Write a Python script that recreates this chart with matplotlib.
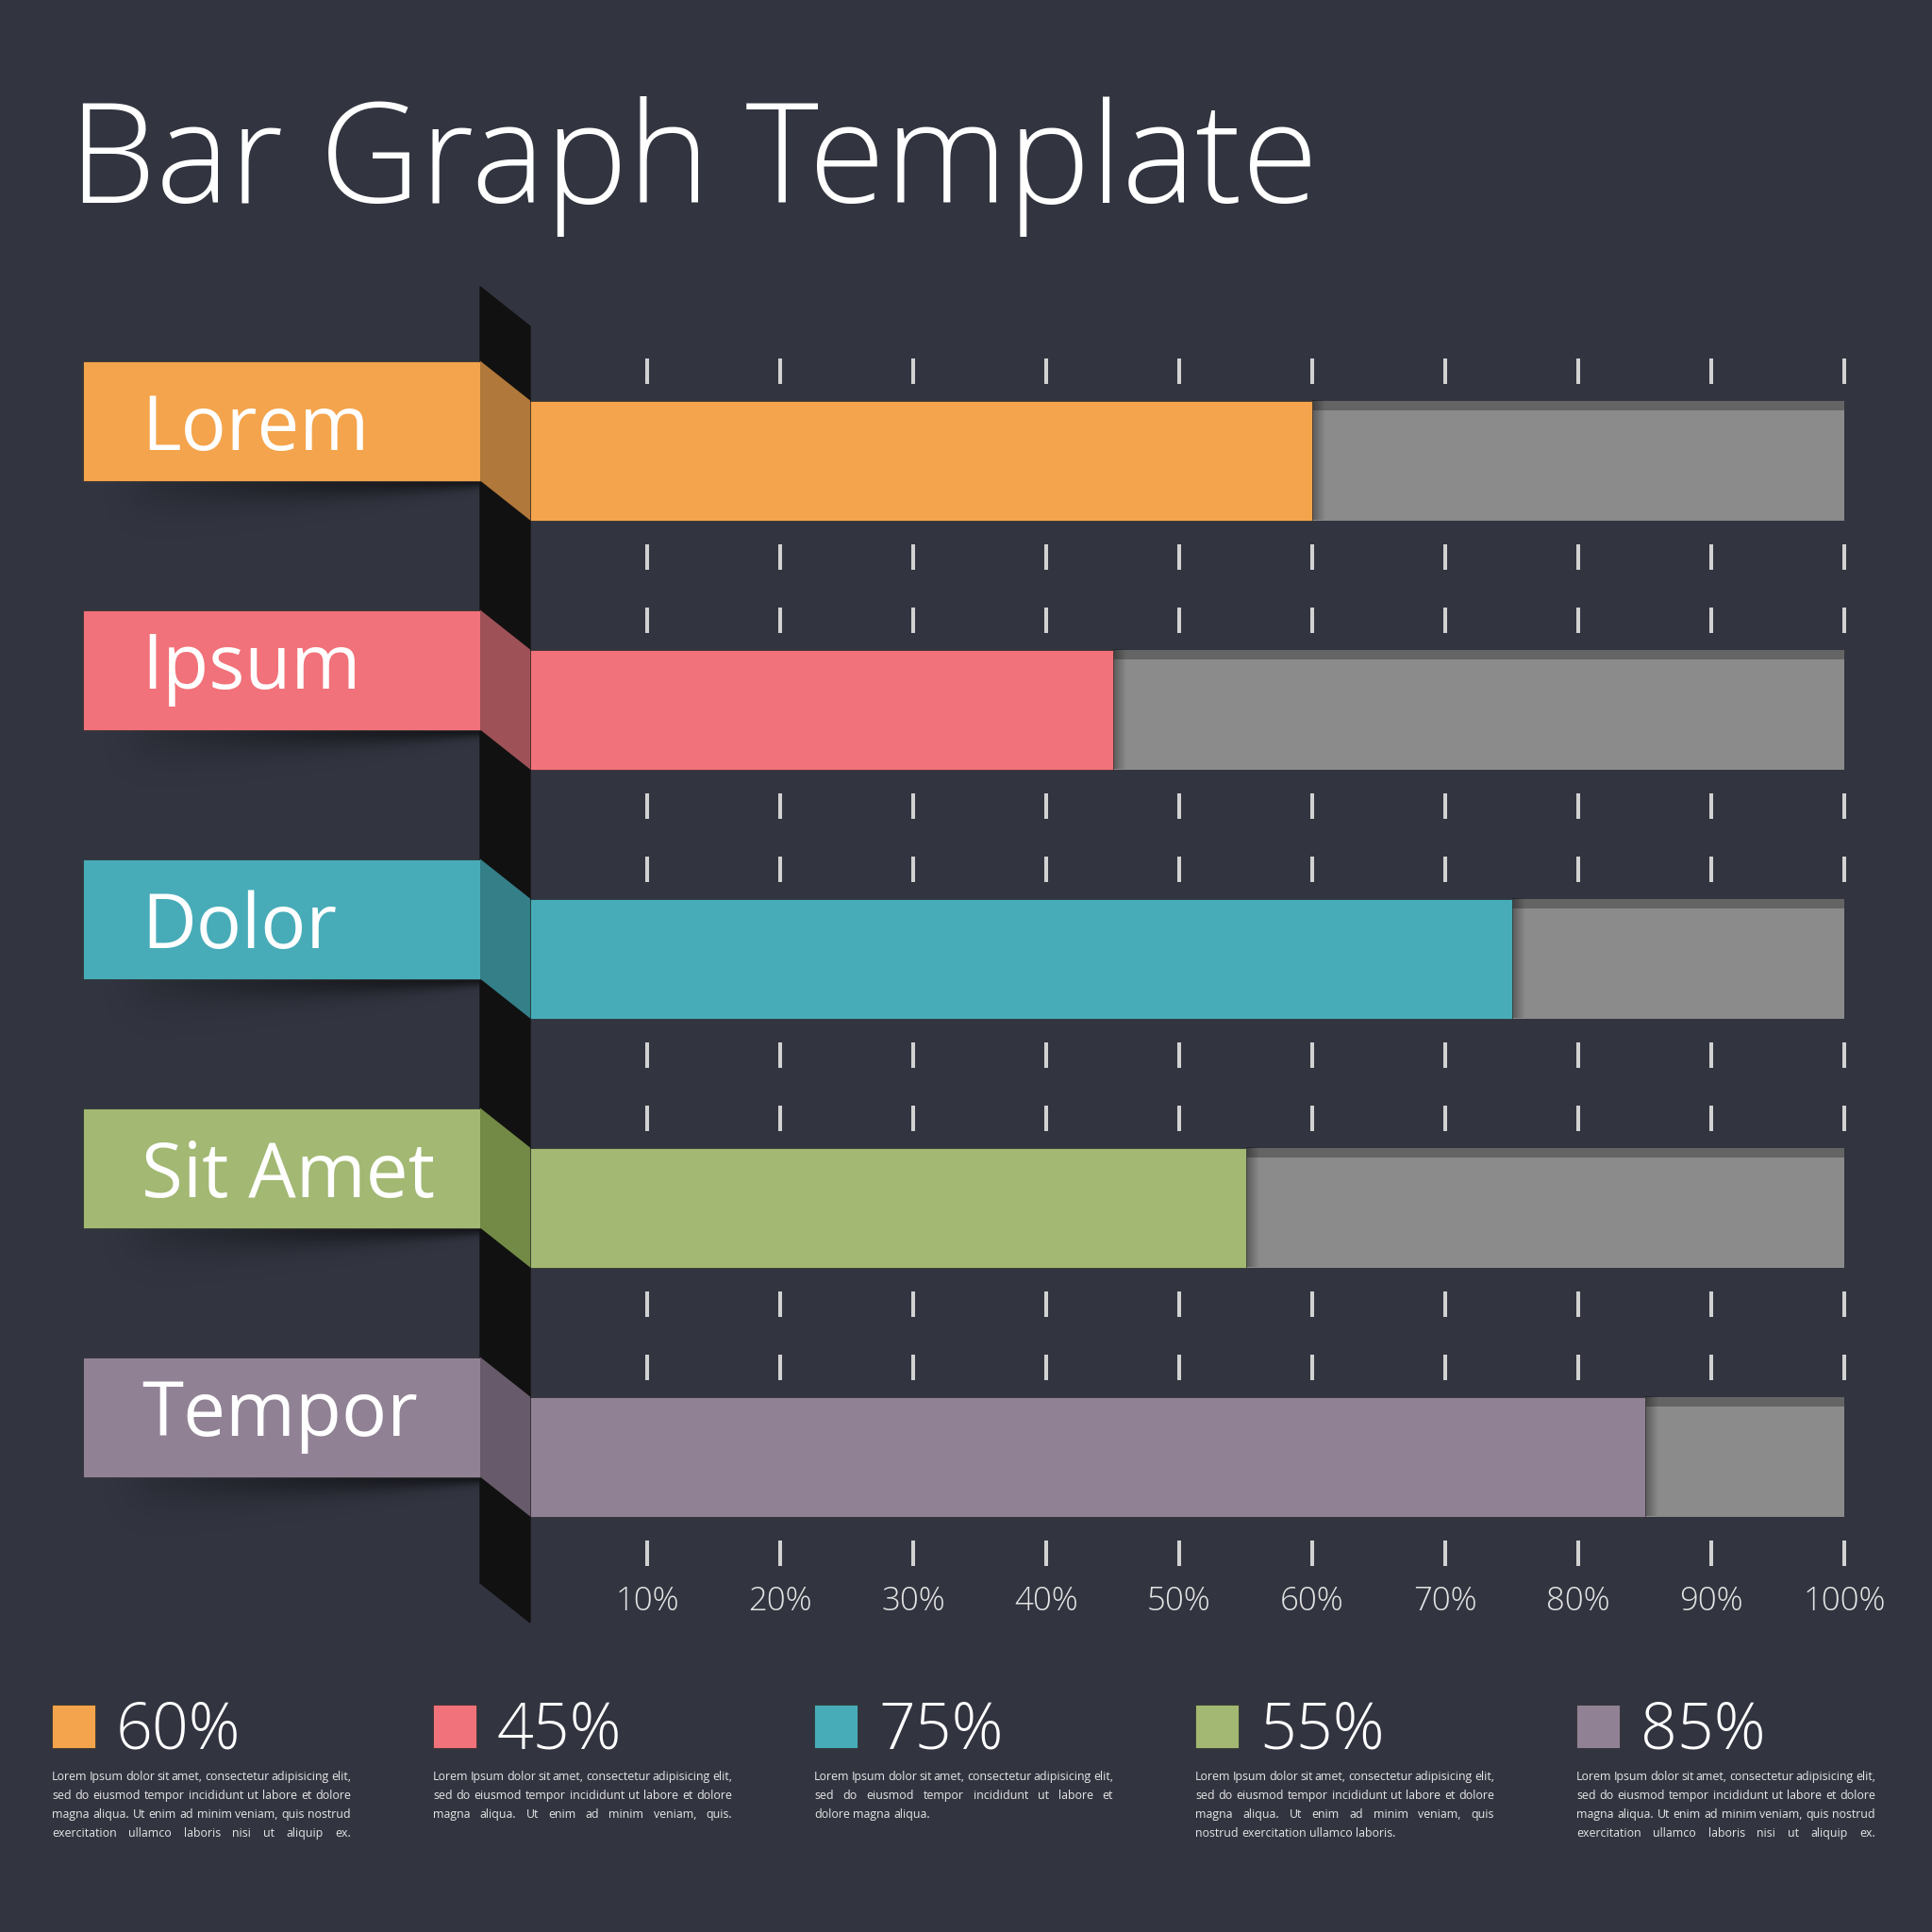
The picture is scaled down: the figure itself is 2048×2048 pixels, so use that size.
import numpy as np
import matplotlib
matplotlib.use('Agg')
from matplotlib import pyplot as plt
from matplotlib.patches import Polygon, Rectangle

# chart data
title = 'Bar Graph Template'
categories = ['Lorem', 'Ipsum', 'Dolor', 'Sit Amet', 'Tempor']
values = [60, 45, 75, 55, 85]
colors = ['#f4a44c', '#f1727a', '#47acb8', '#a2b873', '#908294']
side_colors = ['#b0783a', '#9e5157', '#357f88', '#728a45', '#675a6a']
tick_pcts = [10, 20, 30, 40, 50, 60, 70, 80, 90, 100]
tick_labels = ['10%', '20%', '30%', '40%', '50%', '60%', '70%', '80%', '90%', '100%']
legend_labels = ['60%', '45%', '75%', '55%', '85%']

line1 = 'Lorem Ipsum dolor sit amet, consectetur adipisicing elit,'
line2 = 'sed do eiusmod tempor incididunt ut labore et dolore'
blurbs = [
    [line1, line2, 'magna aliqua. Ut enim ad minim veniam, quis nostrud',
     'exercitation ullamco laboris nisi ut aliquip ex.'],
    [line1, line2, 'magna aliqua. Ut enim ad minim veniam, quis.'],
    [line1, 'sed do eiusmod tempor incididunt ut labore et', 'dolore magna aliqua.'],
    [line1, line2, 'magna aliqua. Ut enim ad minim veniam, quis',
     'nostrud exercitation ullamco laboris.'],
    [line1, line2, 'magna aliqua. Ut enim ad minim veniam, quis nostrud',
     'exercitation ullamco laboris nisi ut aliquip ex.'],
]
justify_last = [True, True, False, False, True]

# layout (pixels on a 2048 canvas)
BG = '#323540'
GRAY = '#8b8b8b'
GRAY_DARK = '#646464'
W = 2048
X0, X100 = 545, 1955      # where 0% and 100% sit
ROW0, ROWSTEP = 488, 264  # centre of first bar, row pitch
BAR_H = 127
LIFT = 42                 # label box sits this much above its bar
FONT = 'Open Sans'

fig = plt.figure(figsize=(20.48, 20.48), dpi=100, facecolor=BG)

def pixel_axes(z):
    a = fig.add_axes([0, 0, 1, 1], zorder=z)
    a.patch.set_alpha(0)
    a.axis('off')
    return a

bg = pixel_axes(0)
ax = pixel_axes(1)
fg = pixel_axes(2)

ppx = (X100 - X0) / 100.0
rows = np.arange(len(categories))
bh = BAR_H / ROWSTEP
strip = 10 / ROWSTEP

# bars
rest = [100 - v for v in values]
ax.barh(rows, rest, left=values, height=bh, color=GRAY, zorder=1)
ax.barh(rows - bh / 2 + strip / 2, rest, left=values, height=strip, color=GRAY_DARK, zorder=1.1)
ax.barh(rows, values, height=bh, color=colors, edgecolor='#2a2a2a', linewidth=0.5, zorder=2)

# small shadow where the coloured bar ends
grad = np.zeros((1, 40, 4))
grad[..., 3] = np.linspace(0.35, 0.0, 40)
for r, v in zip(rows, values):
    ax.imshow(grad, extent=[v, v + 14 / ppx, r + bh / 2, r - bh / 2],
              aspect='auto', interpolation='bilinear', zorder=1.5)

# tick marks above and below every bar
for r in rows:
    top, bot = r - bh / 2, r + bh / 2
    ax.vlines(tick_pcts, top - 45 / ROWSTEP, top - 18 / ROWSTEP, colors='#d2d2d2', linewidth=2.9, zorder=3)
    ax.vlines(tick_pcts, bot + 25 / ROWSTEP, bot + 52 / ROWSTEP, colors='#d2d2d2', linewidth=2.9, zorder=3)
for t, lab in zip(tick_pcts, tick_labels):
    ax.text(t, rows[-1] + bh / 2 + 90 / ROWSTEP, lab, ha='center', va='center',
            fontsize=25, color='#e4e4e4', family=FONT, fontweight='light')

# the dark wall
fg.add_patch(Polygon([(509, 304), (562, 346), (562, 1720), (509, 1678)],
                     closed=True, color='#111111', zorder=1))

# label shadows (soft, darkest close to the wall)
SX0, SX1 = 100, 509
sw, sh = SX1 - SX0, 75
u = np.linspace(0, 1, sw)[None, :]
yy = np.linspace(0, 1, sh)[:, None] * sh
depth = 12 + 48 * (1 - u) ** 0.9
amax = 0.62 * u ** 0.8 * np.clip(u / 0.15, 0, 1)
shadow = np.zeros((sh, sw, 4))
shadow[..., 3] = amax * np.exp(-2.5 * (yy / depth) ** 2)

for i, (name, c, sc) in enumerate(zip(categories, colors, side_colors)):
    top = ROW0 - BAR_H / 2 + ROWSTEP * i - LIFT
    fg.imshow(shadow, extent=[SX0, SX1, top + BAR_H + sh, top + BAR_H],
              aspect='auto', interpolation='bilinear', zorder=0.5, origin='upper')
    fg.add_patch(Rectangle((87.5, top), 421.5, BAR_H, facecolor=c,
                           edgecolor='#2a2a2a', linewidth=0.5, zorder=2))
    fg.add_patch(Polygon([(509, top), (562, top + LIFT), (562, top + LIFT + BAR_H), (509, top + BAR_H)],
                         closed=True, facecolor=sc, edgecolor='none', zorder=2))
    off = 20 if any(ch in 'gjpqy' for ch in name) else 31
    fg.text(150, top + BAR_H / 2 + off, name, va='baseline', ha='left',
            fontsize=57.5, color='white', family=FONT)

# title
bg.text(73, 215, title, va='baseline', ha='left', fontsize=106, color='white',
        family=FONT, fontweight='light')

# legend blocks with justified text
renderer = fig.canvas.get_renderer()
pkw = dict(fontsize=8.9, color='#e6e6e6', family=FONT, va='baseline', ha='left')

def text_width(s):
    t = bg.text(0, 0, s, **pkw)
    w = t.get_window_extent(renderer).width
    t.remove()
    return w

space = text_width('a a') - text_width('aa')
PARA_W = 317

for j in range(len(values)):
    x0 = 55 + 404 * j
    bg.add_patch(Rectangle((x0, 1807), 46, 46, facecolor=colors[j], edgecolor='#2a2a2a', linewidth=0.5))
    bg.text(x0 + 68, 1853, legend_labels[j], va='baseline', ha='left', fontsize=49,
            color='white', family=FONT, fontweight='light')
    lines = blurbs[j]
    for k, line in enumerate(lines):
        y = 1887 + 20 * k
        words = line.split()
        arts = [bg.text(0, y, w, **pkw) for w in words]
        widths = [a.get_window_extent(renderer).width for a in arts]
        last = k == len(lines) - 1
        if (not last or justify_last[j]) and len(words) > 1:
            gap = (PARA_W - sum(widths)) / (len(words) - 1)
        else:
            gap = space
        x = x0
        for a, w in zip(arts, widths):
            a.set_x(x)
            x += w + gap

# limits last (imshow touches them)
for a in (bg, fg):
    a.set_xlim(0, W)
    a.set_ylim(W, 0)
ax.set_xlim(-X0 / ppx, (W - X0) / ppx)
ax.set_ylim((W - ROW0) / ROWSTEP, -ROW0 / ROWSTEP)

fig.savefig('out.png', dpi=100, facecolor=BG)
